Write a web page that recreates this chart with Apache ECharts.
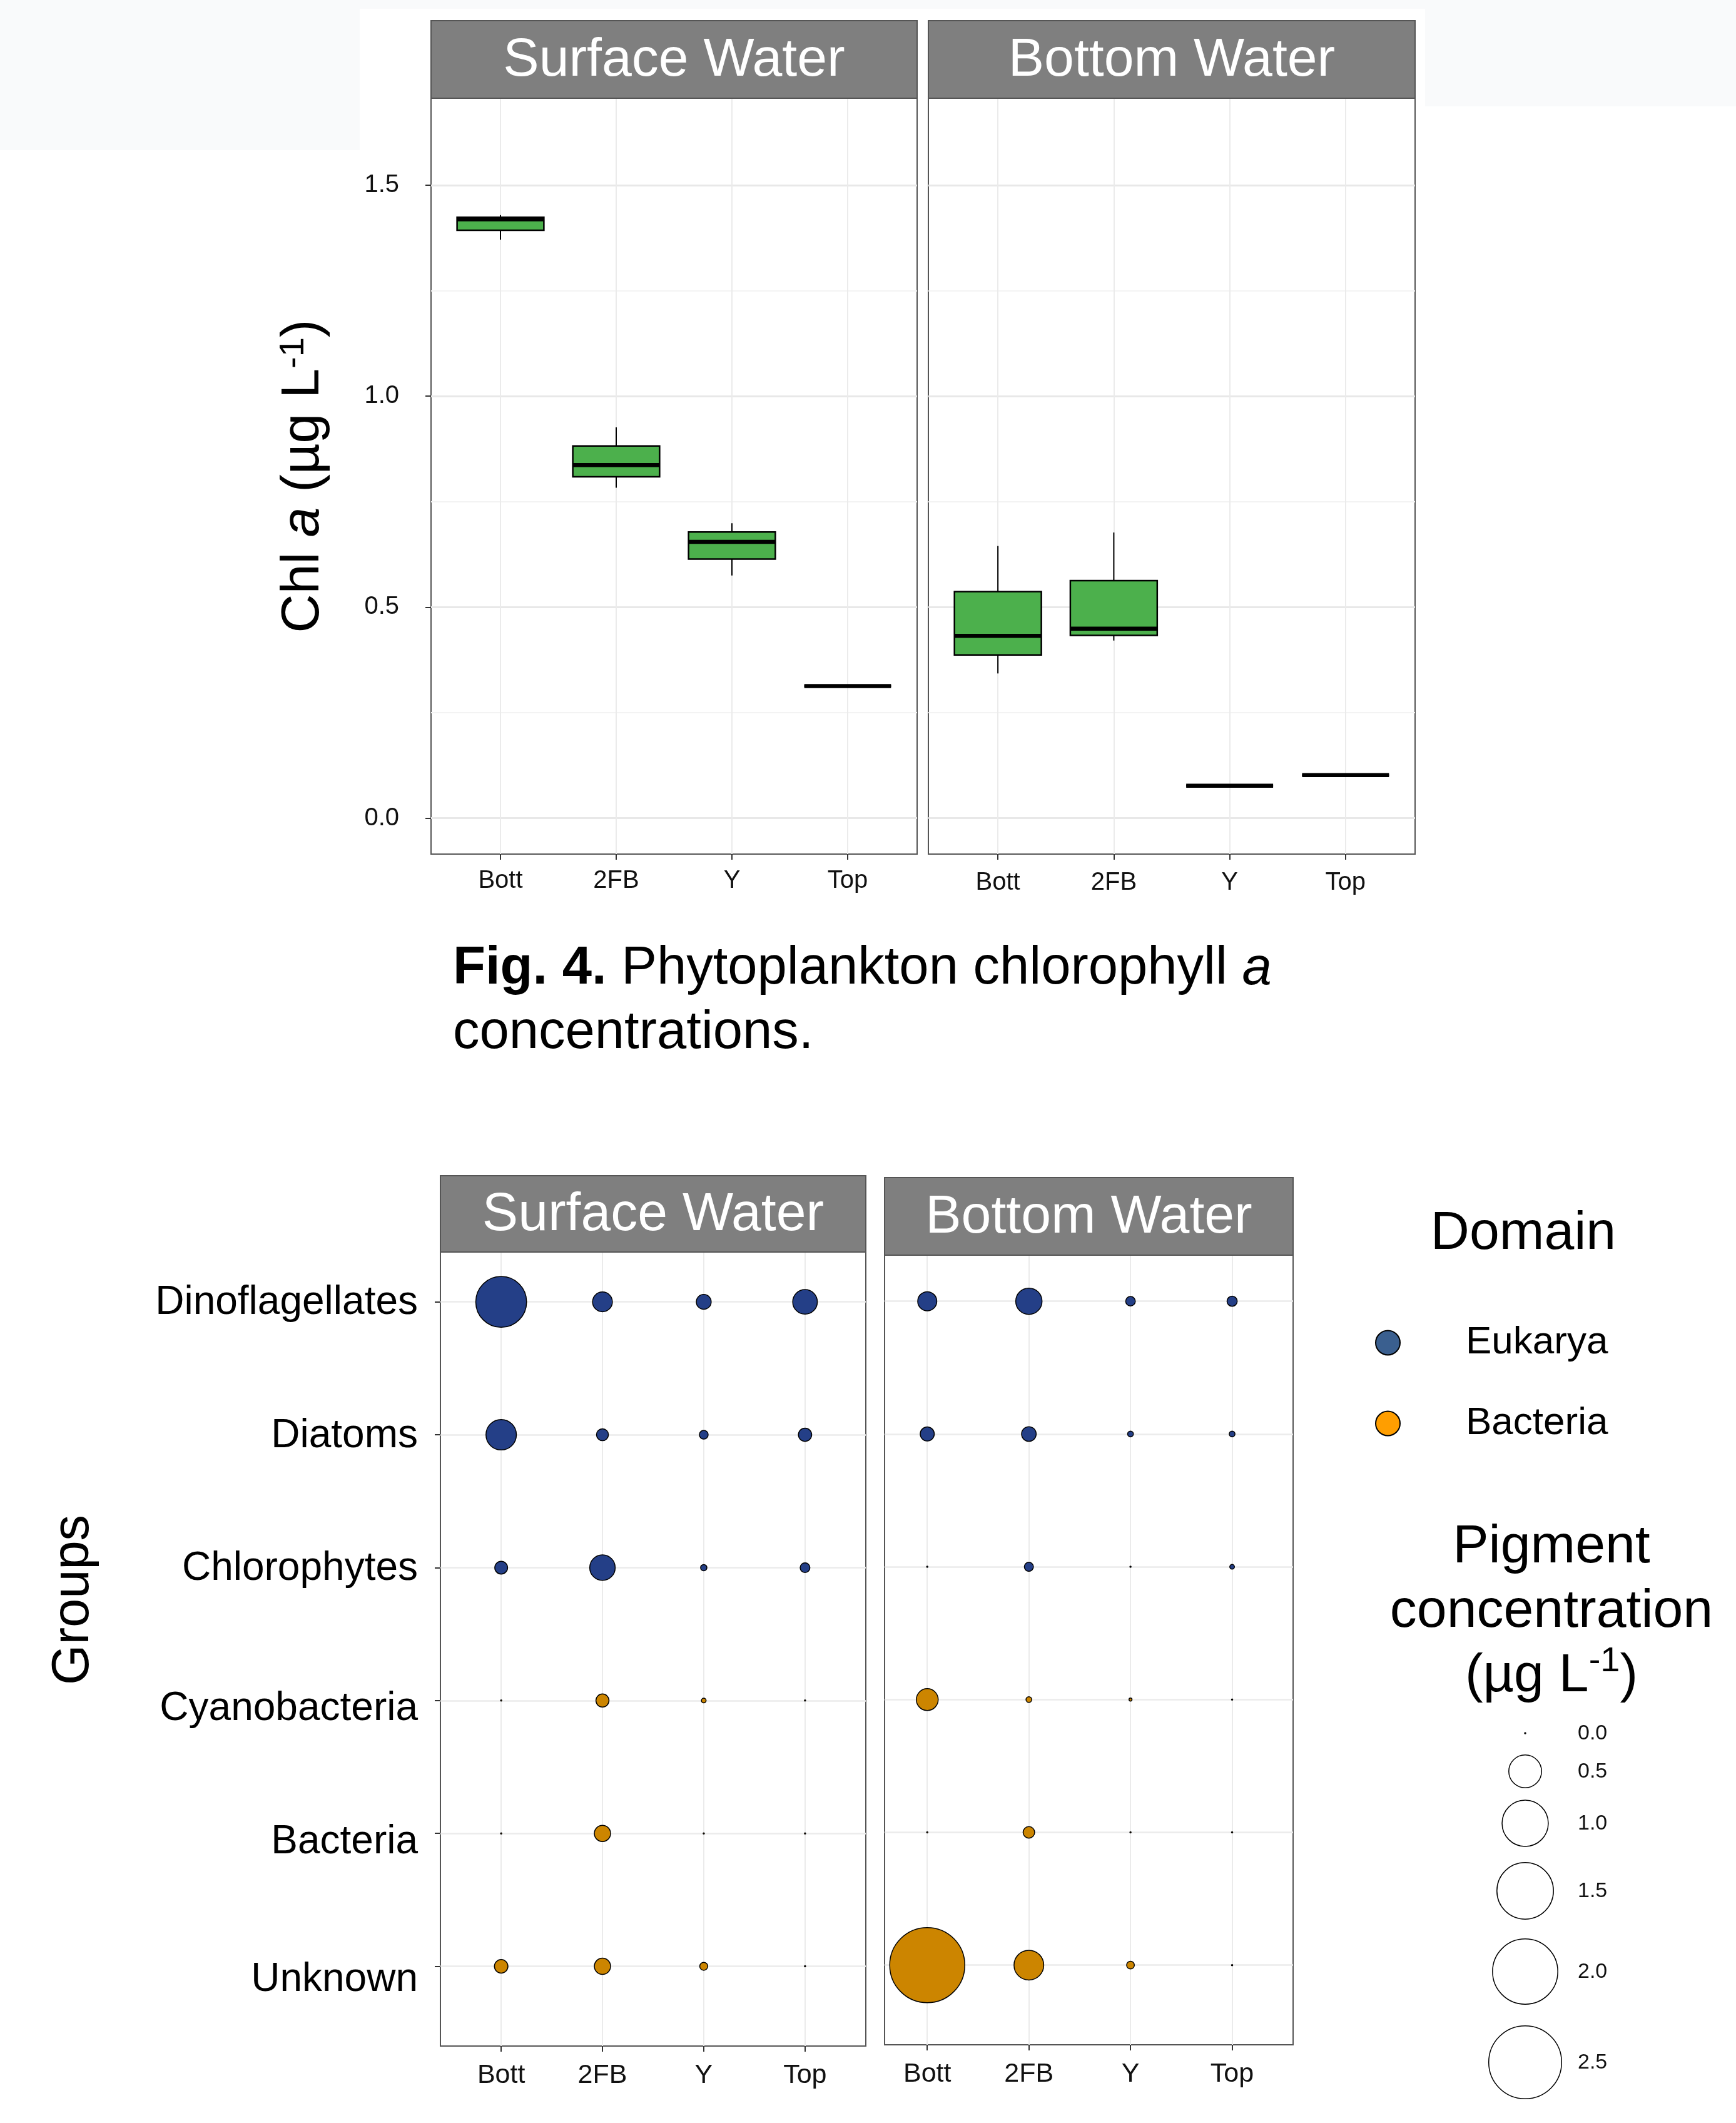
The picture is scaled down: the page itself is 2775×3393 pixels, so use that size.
<!DOCTYPE html>
<html>
<head>
<meta charset="utf-8">
<title>Chlorophyll a and pigment concentrations</title>
<script src="https://cdn.jsdelivr.net/npm/echarts@6.0.0/dist/echarts.min.js"></script>
<style>
  html, body { margin: 0; padding: 0; background: #fff; }
  #chart { width: 2775px; height: 3393px; }
</style>
</head>
<body>
<div id="chart"></div>
<script>
// ---------- data ----------
const sites = ['Bott', '2FB', 'Y', 'Top'];
const panels = ['Surface Water', 'Bottom Water'];

// Fig. 4 boxes, one row per site: [min, Q1, median, Q3, max]
const chlSurface = [
  [1.371, 1.393, 1.419, 1.424, 1.429],
  [0.783, 0.809, 0.837, 0.882, 0.926],
  [0.575, 0.614, 0.655, 0.678, 0.699],
  [0.313, 0.313, 0.313, 0.313, 0.313]
];
const chlBottom = [
  [0.343, 0.387, 0.432, 0.537, 0.645],
  [0.421, 0.433, 0.449, 0.563, 0.677],
  [0.077, 0.077, 0.077, 0.077, 0.077],
  [0.102, 0.102, 0.102, 0.102, 0.102]
];
const chlTicks = [0, 0.5, 1.0, 1.5];
const chlMinorTicks = [0.25, 0.75, 1.25];

// bubble chart: rows = groups, columns = sites (µg/L)
const groups = ['Dinoflagellates', 'Diatoms', 'Chlorophytes', 'Cyanobacteria', 'Bacteria', 'Unknown'];
const groupDomain = ['Eukarya', 'Eukarya', 'Eukarya', 'Bacteria', 'Bacteria', 'Bacteria'];
const domains = ['Eukarya', 'Bacteria'];
const pigSurface = [
  [1.21, 0.18, 0.10, 0.28],
  [0.43, 0.064, 0.034, 0.080],
  [0.074, 0.30, 0.017, 0.042],
  [0, 0.077, 0.009, 0],
  [0, 0.12, 0, 0],
  [0.083, 0.12, 0.028, 0]
];
const pigBottom = [
  [0.167, 0.32, 0.041, 0.046],
  [0.090, 0.097, 0.014, 0.014],
  [0, 0.036, 0, 0.009],
  [0.22, 0.014, 0.0034, 0],
  [0, 0.060, 0, 0],
  [2.65, 0.41, 0.026, 0]
];
const sizeBreaks = [0.0, 0.5, 1.0, 1.5, 2.0, 2.5];

// ---------- style / layout ----------
const FONT = "'Liberation Sans', Arial, Helvetica, sans-serif";
const boxFill = '#4cb04c';
const plotFill = { Eukarya: '#243f87', Bacteria: '#cc8500' };
const keyFill = { Eukarya: '#3a5f8f', Bacteria: '#ff9e00' };
const borderCol = '#555555';
const gridCol = '#ebebeb';

const topGrids = [
  { left: 689, top: 157, width: 777, height: 1208 },
  { left: 1484, top: 157, width: 778, height: 1208 }
];
const topStrip = { y: 33, h: 124 };
const bubGrids = [
  { left: 704, top: 2001, width: 680, height: 1269 },
  { left: 1414, top: 2006, width: 653, height: 1262 }
];
const bubStrips = [{ y: 1879, h: 122 }, { y: 1882, h: 124 }];
// the group labels in the source sit a little below their rows
const groupLabelShift = [2, 2, 2, 14, 14, 22];
const sizeKeyX = 2438;
const sizeKeyY = [2770, 2831, 2914, 3022, 3151, 3296];

const siteIdx = sites.map((s, i) => i + 1);
const groupIdx = groups.map((g, i) => i + 1);

// ggplot-like area scale: diameter grows with sqrt of the value
function bubbleSize(v) {
  return Math.max(2, 2 + 73.4 * Math.sqrt(v) - 1.5);
}

const chart = echarts.init(document.getElementById('chart'));

function gridOf(g) {
  return Object.assign({ show: true, borderColor: borderCol, borderWidth: 2, backgroundColor: '#fff' }, g);
}

function siteAxis(gridIndex, min, fontSize, margin) {
  return {
    type: 'value', gridIndex: gridIndex, min: min, max: 4.6,
    axisLine: { show: false, onZero: false },
    axisTick: { length: 9, customValues: siteIdx, lineStyle: { color: '#333', width: 2 } },
    axisLabel: {
      customValues: siteIdx, formatter: v => sites[v - 1] || '',
      fontSize: fontSize, fontFamily: FONT, color: '#111', margin: margin
    },
    splitLine: { show: true, lineStyle: { color: gridCol, width: 2 } }
  };
}

function chlAxis(gridIndex, showLabels) {
  const ax = {
    type: 'value', gridIndex: gridIndex, min: -0.085, max: 1.706,
    axisLine: { show: false, onZero: false },
    axisTick: { show: showLabels, length: 9, customValues: chlTicks, lineStyle: { color: '#333', width: 2 } },
    axisLabel: {
      show: showLabels, customValues: chlTicks, formatter: v => v.toFixed(1),
      fontSize: 40, fontFamily: FONT, color: '#111', margin: 51
    },
    splitLine: { show: true, lineStyle: { color: '#e8e8e8', width: 3 } }
  };
  if (showLabels) {
    ax.name = 'Chl {i|a} (µg L{sup|-1})';
    ax.nameLocation = 'middle';
    ax.nameRotate = 90;
    ax.nameGap = 161;
    ax.nameTextStyle = {
      fontSize: 86, fontFamily: FONT, color: '#000',
      rich: {
        i: { fontSize: 86, fontStyle: 'italic', fontFamily: FONT, color: '#000' },
        sup: { fontSize: 56, fontFamily: FONT, color: '#000', verticalAlign: 'top' }
      }
    };
  }
  return ax;
}

function chlMinorAxis(gridIndex) {
  return {
    type: 'value', gridIndex: gridIndex, min: -0.085, max: 1.706,
    axisLine: { show: false, onZero: false },
    axisTick: { show: false, customValues: chlMinorTicks },
    axisLabel: { show: false, customValues: chlMinorTicks },
    splitLine: { show: true, lineStyle: { color: '#f3f3f3', width: 2 } }
  };
}

function groupAxis(gridIndex, min, showLabels) {
  const rich = {};
  groups.forEach((g, i) => {
    rich['g' + i] = { fontSize: 64, fontFamily: FONT, color: '#000', padding: [2 * groupLabelShift[i], 0, 0, 0] };
  });
  return {
    type: 'value', gridIndex: gridIndex, inverse: true, min: min, max: 6.6,
    axisLine: { show: false, onZero: false },
    axisTick: { show: showLabels, length: 9, customValues: groupIdx, lineStyle: { color: '#333', width: 2 } },
    axisLabel: {
      show: showLabels, customValues: groupIdx,
      formatter: v => groups[v - 1] ? '{g' + (v - 1) + '|' + groups[v - 1] + '}' : '',
      fontSize: 64, fontFamily: FONT, color: '#000', margin: 36, rich: rich
    },
    splitLine: { show: true, lineStyle: { color: gridCol, width: 2.5 } }
  };
}

function boxSeries(rows, xIdx, yIdx) {
  return {
    type: 'custom', xAxisIndex: xIdx, yAxisIndex: yIdx, z: 3,
    data: rows.map((r, i) => [i + 1].concat(r)),
    encode: { x: 0, y: [1, 2, 3, 4, 5] },
    renderItem: function (params, api) {
      const x = api.value(0);
      const half = 0.375;
      const lo = api.coord([x, api.value(1)]);
      const hi = api.coord([x, api.value(5)]);
      const tl = api.coord([x - half, api.value(4)]);
      const br = api.coord([x + half, api.value(2)]);
      const ml = api.coord([x - half, api.value(3)]);
      const mr = api.coord([x + half, api.value(3)]);
      return {
        type: 'group',
        children: [
          { type: 'line', shape: { x1: lo[0], y1: lo[1], x2: hi[0], y2: hi[1] }, style: { stroke: '#000', lineWidth: 2 } },
          { type: 'rect', shape: { x: tl[0], y: tl[1], width: br[0] - tl[0], height: br[1] - tl[1] },
            style: { fill: boxFill, stroke: '#000', lineWidth: 2.5 } },
          { type: 'line', shape: { x1: ml[0], y1: ml[1], x2: mr[0], y2: mr[1] }, style: { stroke: '#000', lineWidth: 6.5 } }
        ]
      };
    }
  };
}

function bubbleSeries(pig, p, domain) {
  const data = [];
  pig.forEach((row, g) => {
    if (groupDomain[g] !== domain) return;
    row.forEach((v, s) => data.push([s + 1, g + 1, v]));
  });
  return {
    type: 'scatter', name: domain, xAxisIndex: 2 + p, yAxisIndex: 4 + p, z: 3,
    data: data,
    symbol: 'circle',
    symbolSize: d => bubbleSize(d[2]),
    itemStyle: { color: plotFill[domain], borderColor: '#000', borderWidth: 1.5, opacity: 1 },
    emphasis: { disabled: true }
  };
}

// ---------- graphic: strips, caption, titles, size key ----------
const graphic = [
  { type: 'rect', z: -10, shape: { x: 0, y: 0, width: 2775, height: 14 }, style: { fill: '#f9fafb' } },
  { type: 'rect', z: -10, shape: { x: 0, y: 0, width: 575, height: 240 }, style: { fill: '#f9fafb' } },
  { type: 'rect', z: -10, shape: { x: 2278, y: 0, width: 497, height: 170 }, style: { fill: '#f9fafb' } }
];

function addStrip(g, s, label) {
  graphic.push({
    type: 'rect', z: 5,
    shape: { x: g.left, y: s.y, width: g.width, height: s.h },
    style: { fill: '#7f7f7f', stroke: borderCol, lineWidth: 2 }
  });
  graphic.push({
    type: 'text', z: 6, x: g.left + g.width / 2, y: s.y + s.h / 2 + 2,
    style: { text: label, fill: '#fff', fontSize: 86, fontFamily: FONT, align: 'center', verticalAlign: 'middle' }
  });
}
panels.forEach((name, p) => {
  addStrip(topGrids[p], topStrip, name);
  addStrip(bubGrids[p], bubStrips[p], name);
});

graphic.push({
  type: 'text', x: 724, y: 1549,
  style: {
    text: '{b|Fig. 4.} Phytoplankton chlorophyll {i|a}',
    fontSize: 85, fontFamily: FONT, fill: '#000', align: 'left', verticalAlign: 'middle',
    rich: {
      b: { fontSize: 85, fontFamily: FONT, fontWeight: 'bold', fill: '#000' },
      i: { fontSize: 85, fontFamily: FONT, fontStyle: 'italic', fill: '#000' }
    }
  }
});
graphic.push({
  type: 'text', x: 724, y: 1652,
  style: { text: 'concentrations.', fontSize: 85, fontFamily: FONT, fill: '#000', align: 'left', verticalAlign: 'middle' }
});

graphic.push({
  type: 'text', x: 118, y: 2557, rotation: Math.PI / 2,
  style: { text: 'Groups', fontSize: 83, fontFamily: FONT, fill: '#000', align: 'center', verticalAlign: 'middle' }
});

graphic.push({
  type: 'text', x: 2435, y: 1972,
  style: { text: 'Domain', fontSize: 86, fontFamily: FONT, fill: '#000', align: 'center', verticalAlign: 'middle' }
});

graphic.push({
  type: 'text', x: 2480, y: 2576,
  style: {
    text: '{t|Pigment}\n{t|concentration}\n{t|(µg L}{sup|-1}{t|)}',
    fontSize: 86, fontFamily: FONT, fill: '#000', align: 'center', verticalAlign: 'middle', lineHeight: 103,
    rich: {
      t: { fontSize: 86, fontFamily: FONT, fill: '#000', lineHeight: 103 },
      sup: { fontSize: 56, fontFamily: FONT, fill: '#000', lineHeight: 60, verticalAlign: 'top' }
    }
  }
});

sizeBreaks.forEach((v, i) => {
  graphic.push({
    type: 'circle',
    shape: { cx: sizeKeyX, cy: sizeKeyY[i], r: bubbleSize(v) / 2 },
    style: { fill: '#fff', stroke: '#000', lineWidth: 1.5 }
  });
  graphic.push({
    type: 'text', x: 2522, y: sizeKeyY[i] + 1,
    style: { text: v.toFixed(1), fontSize: 34, fontFamily: FONT, fill: '#111', align: 'left', verticalAlign: 'middle' }
  });
});

const option = {
  animation: false,
  backgroundColor: '#fff',
  textStyle: { fontFamily: FONT },
  grid: topGrids.concat(bubGrids).map(gridOf),
  xAxis: [
    siteAxis(0, 0.4, 40, 23),
    siteAxis(1, 0.4, 40, 26),
    siteAxis(2, 0.4, 43, 26),
    siteAxis(3, 0.58, 43, 26)
  ],
  yAxis: [
    chlAxis(0, true),
    chlMinorAxis(0),
    chlAxis(1, false),
    chlMinorAxis(1),
    groupAxis(2, 0.625, true),
    groupAxis(3, 0.653, false)
  ],
  legend: {
    data: domains.map(d => ({ name: d, itemStyle: { color: keyFill[d], borderColor: '#000', borderWidth: 2 } })),
    orient: 'vertical', left: 2193, top: 2110,
    icon: 'circle', itemWidth: 39, itemHeight: 39, itemGap: 67,
    selectedMode: false,
    textStyle: { fontSize: 62, fontFamily: FONT, color: '#000', lineHeight: 62, padding: [0, 0, 0, 100] }
  },
  graphic: graphic,
  series: [
    boxSeries(chlSurface, 0, 0),
    boxSeries(chlBottom, 1, 2),
    bubbleSeries(pigSurface, 0, 'Eukarya'),
    bubbleSeries(pigSurface, 0, 'Bacteria'),
    bubbleSeries(pigBottom, 1, 'Eukarya'),
    bubbleSeries(pigBottom, 1, 'Bacteria')
  ]
};

chart.setOption(option);
</script>
</body>
</html>
